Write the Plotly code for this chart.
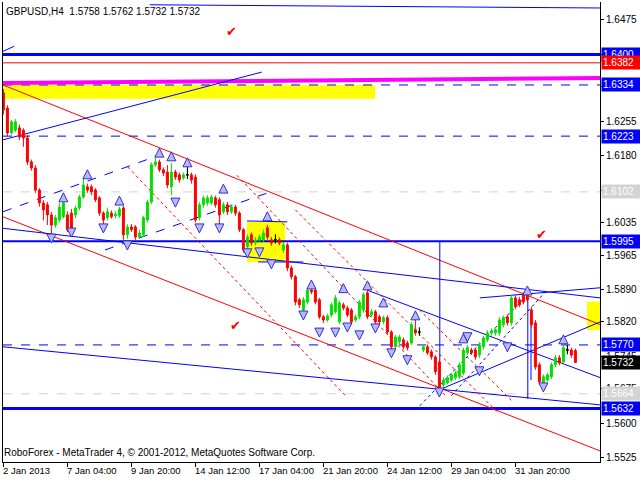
import plotly.graph_objects as go

# ---------------- data (H4 bars, GBPUSD) ----------------
open_ = [1.6317,1.6284,1.6230,1.6236,1.6241,1.6236,1.6219,1.6167,1.6154,1.6106,
         1.6078,1.6074,1.6052,1.6030,1.6041,1.6048,1.6052,1.6056,1.6052,1.6067,
         1.6091,1.6113,1.6113,1.6106,1.6089,1.6056,1.6046,1.6056,1.6050,1.6050,
         1.6067,1.6009,1.6026,1.6026,1.6004,1.6009,1.6041,1.6080,1.6161,1.6167,
         1.6150,1.6145,1.6113,1.6145,1.6139,1.6132,1.6139,1.6139,1.6134,1.6046,
         1.6074,1.6078,1.6078,1.6089,1.6085,1.6059,1.6074,1.6059,1.6069,1.6056,
         1.6020,1.5983,1.6009,1.5991,1.5998,1.5998,1.6024,1.5998,1.5998,1.5998,
         1.5976,1.5987,1.5937,1.5918,1.5868,1.5846,1.5863,1.5889,1.5889,1.5868,
         1.5831,1.5824,1.5835,1.5842,1.5820,1.5857,1.5850,1.5846,1.5824,1.5831,
         1.5846,1.5883,1.5835,1.5842,1.5831,1.5820,1.5829,1.5798,1.5766,1.5777,
         1.5781,1.5774,1.5774,1.5803,1.5798,1.5759,1.5766,1.5755,1.5744,1.5733,
         1.5683,1.5688,1.5694,1.5699,1.5701,1.5709,1.5753,1.5759,1.5759,1.5748,
         1.5766,1.5781,1.5796,1.5796,1.5796,1.5814,1.5831,1.5818,1.5872,1.5868,
         1.5879,1.5879,1.5846,1.5818,1.5727,1.5688,1.5694,1.5701,1.5727,1.5742,
         1.5733,1.5759,1.5759,1.5758]
high = [1.6325,1.6290,1.6258,1.6260,1.6248,1.6240,1.6226,1.6172,1.6160,1.6110,
        1.6084,1.6080,1.6058,1.6052,1.6078,1.6085,1.6060,1.6065,1.6072,1.6096,
        1.6130,1.6120,1.6118,1.6110,1.6093,1.6060,1.6068,1.6062,1.6060,1.6070,
        1.6072,1.6032,1.6032,1.6030,1.6020,1.6050,1.6085,1.6166,1.6182,1.6172,
        1.6155,1.6160,1.6165,1.6150,1.6144,1.6144,1.6156,1.6144,1.6140,1.6080,
        1.6094,1.6095,1.6096,1.6094,1.6090,1.6080,1.6080,1.6075,1.6074,1.6060,
        1.6024,1.6010,1.6014,1.6004,1.6010,1.6020,1.6030,1.6004,1.6010,1.6003,
        1.5994,1.5992,1.5942,1.5922,1.5872,1.5874,1.5894,1.5894,1.5894,1.5872,
        1.5835,1.5838,1.5862,1.5878,1.5866,1.5862,1.5855,1.5850,1.5836,1.5868,
        1.5884,1.5889,1.5848,1.5846,1.5836,1.5834,1.5834,1.5802,1.5792,1.5792,
        1.5786,1.5779,1.5820,1.5829,1.5808,1.5772,1.5771,1.5760,1.5748,1.5738,
        1.5700,1.5704,1.5710,1.5714,1.5732,1.5764,1.5770,1.5764,1.5764,1.5776,
        1.5790,1.5802,1.5806,1.5808,1.5830,1.5834,1.5836,1.5878,1.5878,1.5874,
        1.5884,1.5884,1.5852,1.5824,1.5732,1.5706,1.5710,1.5732,1.5748,1.5748,
        1.5770,1.5770,1.5764,1.5762]
low = [1.6270,1.6222,1.6226,1.6232,1.6214,1.6200,1.6160,1.6148,1.6100,1.6070,
       1.6040,1.6030,1.6009,1.6024,1.6036,1.6044,1.6015,1.6013,1.6045,1.6062,
       1.6087,1.6100,1.6095,1.6080,1.6050,1.6030,1.6040,1.6044,1.6044,1.6046,
       1.5998,1.6000,1.6015,1.5998,1.6000,1.6004,1.6036,1.6076,1.6156,1.6145,
       1.6136,1.6110,1.6095,1.6128,1.6122,1.6128,1.6130,1.6120,1.6036,1.6040,
       1.6068,1.6072,1.6074,1.6068,1.6030,1.6054,1.6052,1.6054,1.6050,1.6015,
       1.5970,1.5960,1.5985,1.5986,1.5992,1.5993,1.5998,1.5985,1.5990,1.5986,
       1.5970,1.5930,1.5912,1.5856,1.5850,1.5840,1.5858,1.5880,1.5858,1.5826,
       1.5818,1.5820,1.5830,1.5838,1.5815,1.5845,1.5830,1.5814,1.5820,1.5826,
       1.5840,1.5826,1.5830,1.5814,1.5815,1.5815,1.5792,1.5760,1.5762,1.5772,
       1.5760,1.5758,1.5770,1.5790,1.5790,1.5754,1.5748,1.5738,1.5705,1.5668,
       1.5678,1.5684,1.5690,1.5694,1.5696,1.5704,1.5748,1.5748,1.5738,1.5742,
       1.5760,1.5776,1.5790,1.5790,1.5790,1.5808,1.5812,1.5812,1.5848,1.5852,
       1.5858,1.5862,1.5808,1.5716,1.5683,1.5683,1.5690,1.5696,1.5722,1.5726,
       1.5728,1.5750,1.5742,1.5732]
close = [1.6280,1.6230,1.6254,1.6254,1.6221,1.6219,1.6167,1.6154,1.6106,1.6078,
         1.6063,1.6052,1.6030,1.6046,1.6069,1.6078,1.6020,1.6020,1.6067,1.6091,
         1.6117,1.6106,1.6102,1.6085,1.6056,1.6041,1.6059,1.6048,1.6054,1.6065,
         1.6009,1.6026,1.6020,1.6004,1.6013,1.6046,1.6080,1.6161,1.6167,1.6150,
         1.6143,1.6117,1.6145,1.6134,1.6128,1.6139,1.6139,1.6128,1.6041,1.6074,
         1.6089,1.6089,1.6091,1.6074,1.6052,1.6074,1.6059,1.6069,1.6056,1.6020,
         1.5976,1.6004,1.5991,1.5998,1.6004,1.6013,1.6004,1.5991,1.5998,1.5991,
         1.5987,1.5937,1.5918,1.5863,1.5857,1.5868,1.5889,1.5885,1.5863,1.5831,
         1.5824,1.5833,1.5857,1.5872,1.5861,1.5850,1.5835,1.5820,1.5831,1.5863,
         1.5879,1.5831,1.5842,1.5820,1.5820,1.5829,1.5798,1.5766,1.5787,1.5787,
         1.5766,1.5764,1.5814,1.5796,1.5798,1.5766,1.5753,1.5744,1.5712,1.5677,
         1.5694,1.5699,1.5705,1.5709,1.5727,1.5759,1.5764,1.5753,1.5744,1.5770,
         1.5785,1.5796,1.5800,1.5803,1.5824,1.5829,1.5818,1.5872,1.5853,1.5857,
         1.5863,1.5868,1.5814,1.5722,1.5690,1.5701,1.5705,1.5727,1.5742,1.5731,
         1.5764,1.5759,1.5748,1.5732]
bars = list(range(len(close)))

time_labels = ["2 Jan 2013", "7 Jan 04:00", "9 Jan 20:00", "14 Jan 12:00", "17 Jan 04:00",
               "21 Jan 20:00", "24 Jan 12:00", "29 Jan 04:00", "31 Jan 20:00"]
time_label_bars = [0, 16, 32, 48, 64, 80, 96, 112, 128]

price_ticks = [1.6475, 1.6400, 1.6330, 1.6255, 1.6180, 1.6105, 1.6035, 1.5965,
               1.5890, 1.5820, 1.5745, 1.5675, 1.5600, 1.5525]
price_tick_text = ["1.6475", "", "", "1.6255", "1.6180", "1.6105", "1.6035", "1.5965",
                   "1.5890", "1.5820", "1.5745", "1.5675", "1.5600", "1.5525"]

# horizontal levels
levels_price = [1.6400, 1.6382, 1.6334, 1.6223, 1.6102, 1.5995, 1.5770, 1.5664, 1.5632]
levels_color = ["#0000ff", "#ff0000", "#0000ff", "#0000ff", "#d3d3d3", "#0000ff", "#0000ff", "#d3d3d3", "#0000ff"]
levels_dash = ["solid", "solid", "dash", "dash", "dash", "solid", "dash", "dash", "solid"]
levels_width = [3, 1, 1, 1, 1, 2, 1, 1, 3]

# price scale markers: (price, text, background)
scale_marks = [(1.6400, "1.6400", "#0000ff"), (1.6382, "1.6382", "#ff0000"), (1.6334, "1.6334", "#0000ff"),
               (1.6223, "1.6223", "#0000ff"), (1.6102, "1.6102", "#d3d3d3"), (1.5995, "1.5995", "#0000ff"),
               (1.5770, "1.5770", "#0000ff"), (1.5732, "1.5732", "#000000"), (1.5664, "1.5664", "#d3d3d3"),
               (1.5632, "1.5632", "#0000ff")]

# fractal arrows (bar, price)
up_bars = [15, 21, 29, 39, 42, 46, 55, 66, 77, 85, 91, 95, 103, 115, 131, 140]
up_prices = [1.6100, 1.6150, 1.6093, 1.6197, 1.6189, 1.6176, 1.6119, 1.6059, 1.5911, 1.5903,
             1.5909, 1.5872, 1.5844, 1.5794, 1.5898, 1.5792]
dn_bars = [12, 17, 25, 31, 43, 49, 54, 61, 64, 67, 75, 79, 83, 86, 89, 93, 97, 101, 109, 116, 119, 126, 135]
dn_prices = [1.5991, 1.6004, 1.6013, 1.5976, 1.6069, 1.6013, 1.6013, 1.5959, 1.5961, 1.5935,
             1.5824, 1.5787, 1.5787, 1.5798, 1.5781, 1.5796, 1.5742, 1.5727, 1.5657, 1.5777,
             1.5703, 1.5755, 1.5668]

check_bars = [57.1, 134.4, 58.1]
check_prices = [1.6447, 1.6007, 1.5809]

# trend lines: (bar0, price0, bar1, price1, colour, dash, width)
trendlines = [
    (36.6, 1.6508, 149.2, 1.6501, "#0000ff", "solid", 1),
    (-0.1, 1.6407, 2.7, 1.6418, "#0000ff", "solid", 1),
    (-0.1, 1.6338, 149.2, 1.6349, "#ff00ff", "solid", 4),
    (-0.1, 1.6334, 149.2, 1.5814, "#ff0000", "solid", 1),
    (-0.1, 1.6048, 149.2, 1.5540, "#ff0000", "solid", 1),
    (-0.1, 1.6215, 64.6, 1.6362, "#0000ff", "solid", 1),
    (-0.1, 1.6059, 38.4, 1.6180, "#0000ff", "dash", 1),
    (25.4, 1.5976, 66.1, 1.6100, "#0000ff", "dash", 1),
    (-0.1, 1.6023, 149.2, 1.5872, "#0000ff", "solid", 1),
    (-0.1, 1.5766, 149.2, 1.5640, "#0000ff", "solid", 1),
    (90.9, 1.5889, 149.2, 1.5699, "#0000ff", "solid", 1),
    (119.1, 1.5872, 149.2, 1.5894, "#0000ff", "solid", 1),
    (109.1, 1.5673, 149.2, 1.5820, "#0000ff", "solid", 1),
    (60.9, 1.6039, 71.0, 1.6037, "#0000ff", "solid", 1),
    (63.7, 1.5950, 75.0, 1.5950, "#0000ff", "solid", 1),
    (31.1, 1.6156, 85.4, 1.5661, "#ff0000", "3px,3px", 1),
    (58.4, 1.6138, 110.4, 1.5661, "#ff0000", "3px,3px", 1),
    (73.0, 1.6063, 124.0, 1.5620, "#ff0000", "3px,3px", 1),
    (104.0, 1.5846, 127.0, 1.5650, "#ff0000", "3px,3px", 1),
    (104.1, 1.5638, 130.0, 1.5870, "#0000ff", "3px,3px", 1),
    (112.0, 1.5660, 136.0, 1.5890, "#0000ff", "3px,3px", 1),
    (109.1, 1.5995, 109.1, 1.5668, "#0000ff", "solid", 1),
    (131.1, 1.5876, 131.1, 1.5653, "#0000ff", "solid", 1),
    (131.9, 1.5844, 131.9, 1.5694, "#0000ff", "solid", 1),
]
# yellow zones: (bar0, price0, bar1, price1)
zones = [(-0.1, 1.6334, 92.9, 1.6304), (60.9, 1.6037, 70.4, 1.5950), (145.9, 1.5864, 149.2, 1.5802)]

XMIN, XMAX = -0.1, 149.15
YMIN, YMAX = 1.5516, 1.6514

fig = go.Figure()

for (x0, y0, x1, y1) in zones:
    fig.add_shape(type="rect", x0=x0, x1=x1, y0=y0, y1=y1, xref="x", yref="y",
                  fillcolor="#ffff00", line=dict(width=0), layer="below")

for p, c, d, w in zip(levels_price, levels_color, levels_dash, levels_width):
    fig.add_shape(type="line", x0=XMIN, x1=XMAX, y0=p, y1=p, xref="x", yref="y",
                  line=dict(color=c, dash=d, width=w), layer="below")

for (x0, y0, x1, y1, c, d, w) in trendlines:
    fig.add_shape(type="line", x0=x0, x1=x1, y0=y0, y1=y1, xref="x", yref="y",
                  line=dict(color=c, dash=d, width=w), layer="below")

fig.add_trace(go.Candlestick(
    x=bars, open=open_, high=high, low=low, close=close,
    increasing=dict(line=dict(color="#00e000", width=1), fillcolor="#00e000"),
    decreasing=dict(line=dict(color="#ff0000", width=1), fillcolor="#ff0000"),
    whiskerwidth=0, showlegend=False, hoverinfo="skip"))

doji = [i for i in bars if open_[i] == close[i]]
fig.add_trace(go.Candlestick(
    x=doji, open=[open_[i] for i in doji], high=[high[i] for i in doji],
    low=[low[i] for i in doji], close=[close[i] for i in doji],
    increasing=dict(line=dict(color="#000000", width=1), fillcolor="#000000"),
    decreasing=dict(line=dict(color="#000000", width=1), fillcolor="#000000"),
    whiskerwidth=0, showlegend=False, hoverinfo="skip"))

fig.add_trace(go.Scatter(x=up_bars, y=up_prices, mode="markers", showlegend=False, hoverinfo="skip",
                         marker=dict(symbol="arrow-up", size=9, color="#b8b8ff",
                                     line=dict(color="#3030c8", width=1))))
fig.add_trace(go.Scatter(x=dn_bars, y=dn_prices, mode="markers", showlegend=False, hoverinfo="skip",
                         marker=dict(symbol="arrow-down", size=9, color="#b8b8ff",
                                     line=dict(color="#3030c8", width=1))))
fig.add_trace(go.Scatter(x=check_bars, y=check_prices, mode="text", text=["✔"] * 3,
                         textfont=dict(color="#ff0000", size=13), showlegend=False, hoverinfo="skip"))

FONT = "Liberation Sans"
for p, txt, c in scale_marks:
    fig.add_annotation(x=1, xref="paper", y=p, yref="y", text=txt, showarrow=False,
                       xanchor="left", yanchor="middle", xshift=1, bgcolor=c,
                       font=dict(family=FONT, size=10, color="white"), borderpad=1, width=36, align="left")

for b, t in zip(time_label_bars, time_labels):
    fig.add_annotation(x=b, xref="x", y=0, yref="paper", text=t, showarrow=False,
                       xanchor="left", yanchor="top", yshift=-1, xshift=-2,
                       font=dict(family=FONT, size=9.5, color="black"))

fig.add_annotation(x=0, xref="paper", y=1, yref="paper", text="GBPUSD,H4  1.5758 1.5762 1.5732 1.5732",
                   showarrow=False, xanchor="left", yanchor="top", xshift=1, yshift=-2,
                   font=dict(family=FONT, size=10, color="black"))
fig.add_annotation(x=0, xref="paper", y=0, yref="paper",
                   text="RoboForex - MetaTrader 4, © 2001-2012, MetaQuotes Software Corp.",
                   showarrow=False, xanchor="left", yanchor="bottom", xshift=-1, yshift=2,
                   font=dict(family=FONT, size=10, color="black"))

fig.update_layout(
    width=640, height=480, margin=dict(l=3, r=40, t=2, b=18, autoexpand=False),
    paper_bgcolor="white", plot_bgcolor="white", showlegend=False,
    xaxis=dict(range=[XMIN, XMAX], rangeslider=dict(visible=False), showgrid=False, zeroline=False,
               showline=True, linecolor="black", linewidth=1, tickmode="array", tickvals=time_label_bars,
               ticks="outside", ticklen=4, tickcolor="black", showticklabels=False, automargin=False),
    yaxis=dict(range=[YMIN, YMAX], side="right", showgrid=False, zeroline=False, showline=True,
               linecolor="black", linewidth=1, mirror=True, tickmode="array", tickvals=price_ticks,
               ticktext=price_tick_text, ticks="outside", ticklen=3, tickcolor="black",
               tickfont=dict(family=FONT, size=10, color="black"), automargin=False),
)

fig.write_html("out.html", config={"displayModeBar": False},
               post_script="document.body.style.margin='0';document.body.style.overflow='hidden';")
